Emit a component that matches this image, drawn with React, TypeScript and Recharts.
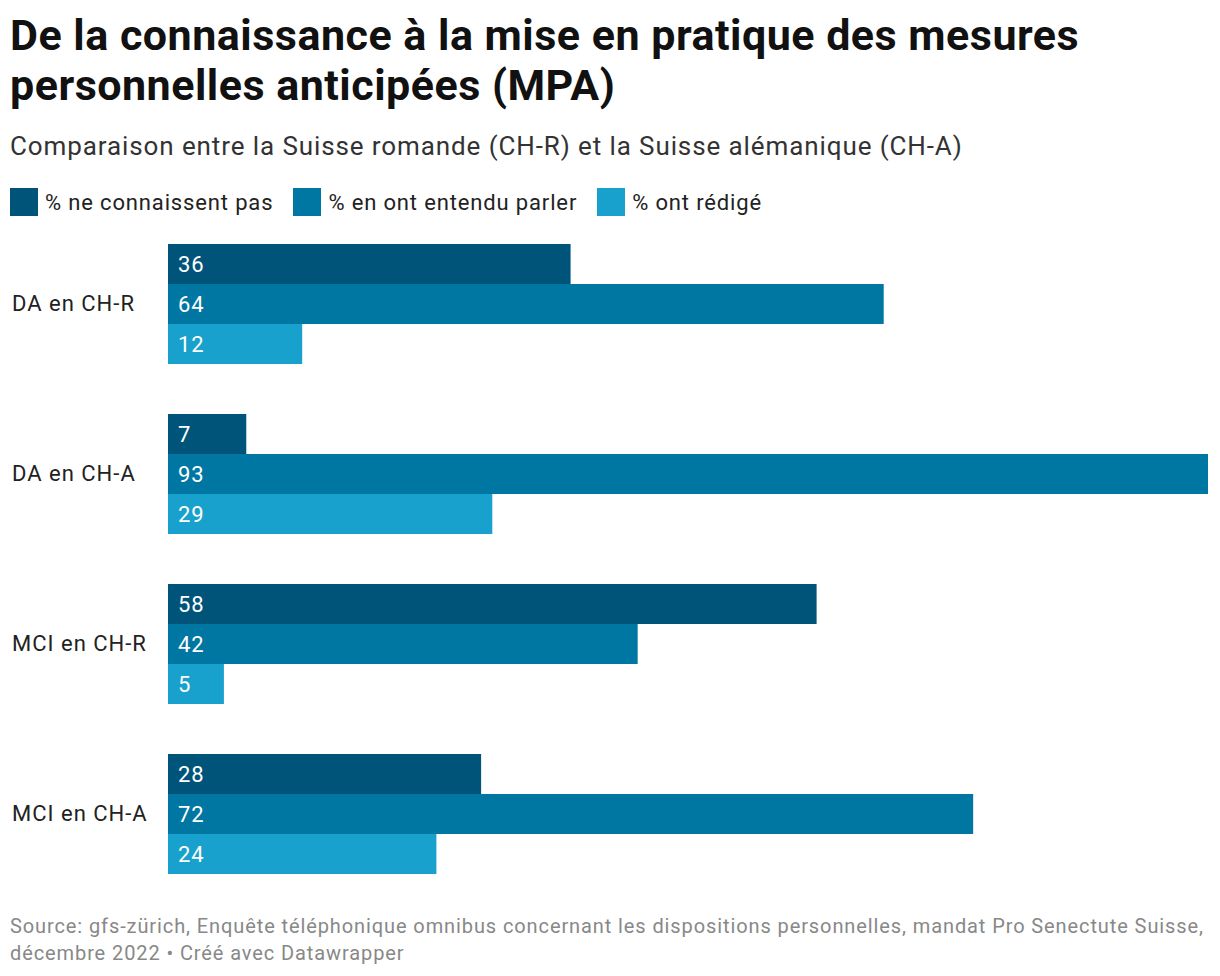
import React from 'react';
import { BarChart, Bar, XAxis, YAxis, LabelList } from 'recharts';

// Données
const categories = ['DA en CH-R', 'DA en CH-A', 'MCI en CH-R', 'MCI en CH-A'];
const neConnaissentPas = [36, 7, 58, 28];
const entenduParler = [64, 93, 42, 72];
const ontRedige = [12, 29, 5, 24];

const seriesNames = ['% ne connaissent pas', '% en ont entendu parler', '% ont rédigé'];
const seriesKeys = ['pas', 'entendu', 'redige'];
const colors = ['#00547a', '#0077a3', '#19a1cd'];

const data = categories.map((name, i) => ({
  name,
  pas: neConnaissentPas[i],
  entendu: entenduParler[i],
  redige: ontRedige[i],
}));

const FONT = 'Roboto, "Noto Sans", sans-serif';

const CategoryTick = ({ y, payload }: any) => (
  <text x={12} y={y} dy={7} textAnchor="start" fontSize={22} letterSpacing={1} fill="#222" fontFamily={FONT}>
    {payload.value}
  </text>
);

export default function App() {
  return (
    <div
      style={{
        position: 'absolute',
        left: 0,
        top: 0,
        width: 1220,
        height: 976,
        background: '#fff',
        fontFamily: FONT,
        color: '#222',
        overflow: 'hidden',
      }}
    >
      <div style={{ position: 'absolute', left: 10, top: 10, fontSize: 43, letterSpacing: 0.5, fontWeight: 700, lineHeight: '50px', color: '#111', whiteSpace: 'nowrap' }}>
        De la connaissance à la mise en pratique des mesures
        <br />
        personnelles anticipées (MPA)
      </div>
      <div style={{ position: 'absolute', left: 10, top: 130, fontSize: 26, letterSpacing: 0.9, color: '#333', lineHeight: '32px', whiteSpace: 'nowrap' }}>
        Comparaison entre la Suisse romande (CH-R) et la Suisse alémanique (CH-A)
      </div>
      <div style={{ position: 'absolute', left: 10, top: 188, display: 'flex', alignItems: 'center', height: 28 }}>
        {seriesNames.map((s, i) => (
          <div key={s} style={{ display: 'flex', alignItems: 'center', marginRight: 20 }}>
            <div style={{ width: 28, height: 28, background: colors[i], marginRight: 7 }} />
            <span style={{ fontSize: 22, letterSpacing: 0.85, color: '#222', whiteSpace: 'nowrap' }}>{s}</span>
          </div>
        ))}
      </div>

      <div style={{ position: 'absolute', left: 0, top: 219 }}>
        <BarChart
          width={1220}
          height={680}
          data={data}
          layout="vertical"
          margin={{ top: 0, right: 12, bottom: 0, left: 0 }}
          barCategoryGap={25}
          barGap={0}
        >
          <XAxis type="number" domain={[0, 93]} hide />
          <YAxis
            type="category"
            dataKey="name"
            width={168}
            axisLine={false}
            tickLine={false}
            tick={<CategoryTick />}
          />
          {seriesKeys.map((k, i) => (
            <Bar key={k} dataKey={k} fill={colors[i]} isAnimationActive={false}>
              <LabelList
                dataKey={k}
                position="insideLeft"
                offset={10}
                fill="#fff"
                fontSize={22}
                letterSpacing={1}
                fontFamily={FONT}
              />
            </Bar>
          ))}
        </BarChart>
      </div>

      <div style={{ position: 'absolute', left: 10, top: 913, fontSize: 20, letterSpacing: 0.9, color: '#888', lineHeight: '27px', whiteSpace: 'nowrap' }}>
        Source: gfs-zürich, Enquête téléphonique omnibus concernant les dispositions personnelles, mandat Pro Senectute Suisse,
        <br />
        décembre 2022 • Créé avec Datawrapper
      </div>
    </div>
  );
}
